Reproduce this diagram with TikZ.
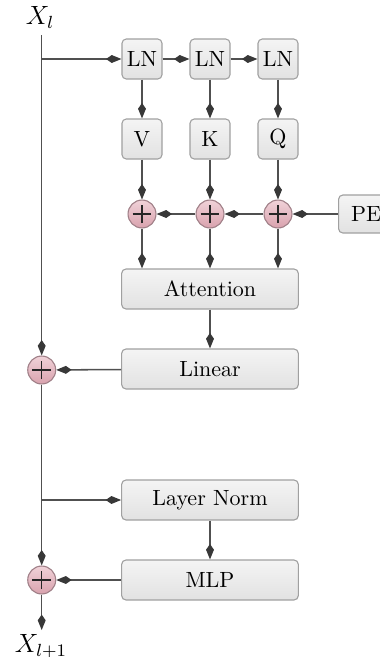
\documentclass[tikz,border=0pt]{standalone}
\usetikzlibrary{arrows.meta,positioning}
\definecolor{linec}{HTML}{505050}
\definecolor{tipc}{HTML}{383838}
\definecolor{boxb}{HTML}{A0A0A0}
\definecolor{boxt}{HTML}{F4F4F4}
\definecolor{boxbt}{HTML}{E2E2E2}
\definecolor{plust}{HTML}{F0D2D8}
\definecolor{plusb}{HTML}{D9A2AE}
\definecolor{plusd}{HTML}{A08088}
\begin{document}
\begin{tikzpicture}[x=0.4545pt,y=-0.4545pt,
  blk/.style={draw=boxb,line width=0.5pt,rounded corners=2pt,top color=boxt,bottom color=boxbt,
    minimum width=18.2pt,minimum height=18.2pt,inner sep=1.5pt,font=\normalsize},
  wide/.style={blk,minimum width=80.3pt},
  sumnode/.style={circle,draw=plusd,line width=0.5pt,top color=plust,bottom color=plusb,
    minimum size=12.7pt,inner sep=0pt,
    path picture={
      \draw[line width=0.6pt,black!85]
        ([xshift=-4.3pt]path picture bounding box.center) -- ([xshift=4.3pt]path picture bounding box.center)
        ([yshift=-4.3pt]path picture bounding box.center) -- ([yshift=4.3pt]path picture bounding box.center);}},
  arr/.style={draw=linec,line width=0.7pt,-{Kite[length=7pt,width=3.6pt,inset=2.6pt,fill=tipc,color=tipc]}},
  ln/.style={draw=linec,line width=0.7pt}]
\useasboundingbox (0,0) rectangle (380,657);
% labels
\node (xl) at (40,17) {\large $X_l$};
\node (xl1) at (41,646) {\large $X_{l+1}$};
\coordinate (top) at (41.7,35);
\coordinate (bot) at (41.7,630);
% boxes
\node[blk] (ln1) at (142,59) {LN};
\node[blk] (ln2) at (210,59) {LN};
\node[blk] (ln3) at (278,59) {LN};
\node[blk] (v) at (142,139) {V};
\node[blk] (k) at (210,139) {K};
\node[blk] (q) at (278,139) {Q};
\node[sumnode] (p1) at (142,214) {};
\node[sumnode] (p2) at (210,214) {};
\node[sumnode] (p3) at (278,214) {};
\node[blk,anchor=west,minimum width=25pt,minimum height=17.3pt] (pe) at (338,214) {PE};
\node[wide] (att) at (210,289) {Attention};
\node[wide] (lin) at (210,369) {Linear};
\node[sumnode] (pl) at (41.7,370) {};
\node[wide] (lnorm) at (210,500) {Layer Norm};
\node[wide] (mlp) at (210,580) {MLP};
\node[sumnode] (pm) at (41.7,580) {};
% connectors
\draw[arr] (top) -- (pl.north);
\draw[arr] (top |- ln1) -- (ln1.west);
\draw[arr] (ln1) -- (ln2);
\draw[arr] (ln2) -- (ln3);
\draw[arr] (ln1) -- (v);
\draw[arr] (ln2) -- (k);
\draw[arr] (ln3) -- (q);
\draw[arr] (v) -- (p1);
\draw[arr] (k) -- (p2);
\draw[arr] (q) -- (p3);
\draw[arr] (pe) -- (p3);
\draw[arr] (p3) -- (p2);
\draw[arr] (p2) -- (p1);
\draw[arr] (p1) -- (p1 |- att.north);
\draw[arr] (p2) -- (p2 |- att.north);
\draw[arr] (p3) -- (p3 |- att.north);
\draw[arr] (att) -- (lin);
\draw[arr] (lin) -- (pl);
\draw[arr] (pl.south) -- (pm.north);
\draw[arr] (pl |- lnorm) -- (lnorm.west);
\draw[arr] (lnorm) -- (mlp);
\draw[arr] (mlp) -- (pm);
\draw[arr] (pm.south) -- (bot);
\end{tikzpicture}
\end{document}
